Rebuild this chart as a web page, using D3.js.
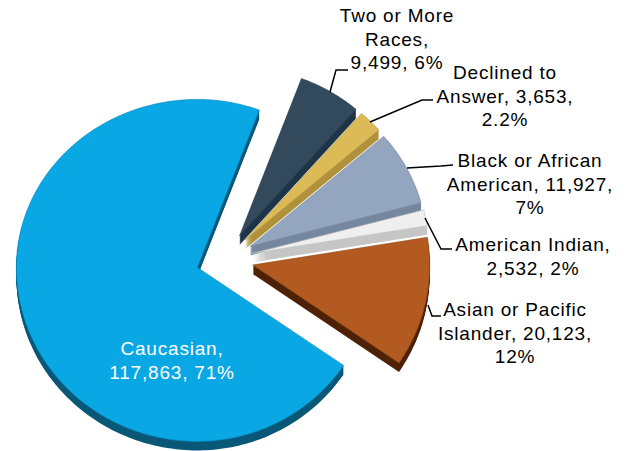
<!DOCTYPE html>
<html>
<head>
<meta charset="utf-8">
<script src="https://cdn.jsdelivr.net/npm/d3@7"></script>
<style>
  html, body { margin: 0; padding: 0; background: #fff; }
  text { font-family: "Liberation Sans", Arial, sans-serif; font-size: 19px; letter-spacing: 0.8px; fill: #000; }
</style>
</head>
<body>
<div id="chart"></div>
<script>
// Data, clockwise from the top
const categories = ["Two or More Races", "Declined to Answer", "Black or African American", "American Indian", "Asian or Pacific Islander", "Caucasian"];
const values = [9499, 3653, 11927, 2532, 20123, 117863];
const faceColors = ["#334a5c", "#dcba55", "#94a5bf", "#efefef", "#b25a20", "#09a7e4"];
const sideColors = ["#1f3648", "#b0923c", "#76879f", "#c6c6c6", "#4f2308", "#0a5878"];
const labelLines = [
  ["Two or More", "Races,", "9,499, 6%"],
  ["Declined to", "Answer, 3,653,", "2.2%"],
  ["Black or African", "American, 11,927,", "7%"],
  ["American Indian,", "2,532, 2%"],
  ["Asian or Pacific", "Islander, 20,123,", "12%"],
  ["Caucasian,", "117,863, 71%"]
];

const width = 629;
const height = 451;

// Pie geometry: centre, radii (the tilted disc is not quite symmetric), explode, thickness
const cx = 225;
const cy = 259;
const rxLeft = 181;
const rxRight = 177;
const ryBack = 168;
const ryFront = 174;
const explode = 29;
const depth = 9;
const startDeg = 20.5;

// Where each label sits and the elbow of its leader line
const labelPos = [
  { x: 397, y: 22, leader: [[330, 92], [336, 70], [348, 70]] },
  { x: 505, y: 79, leader: [[370, 122], [422, 100], [433, 100]] },
  { x: 530, y: 167, leader: [[407, 168], [441, 166], [453, 165]] },
  { x: 533, y: 251, leader: [[425, 218], [441, 249], [452, 249]] },
  { x: 515, y: 316, leader: [[428, 305], [432, 316], [441, 316]] },
  { x: 172, y: 355, color: "#fff" }
];
const lineHeight = 23.5;

const svg = d3.select("#chart").append("svg")
  .attr("width", width)
  .attr("height", height)
  .style("display", "block");

const pie = d3.pie().sort(null)
  .startAngle(startDeg * Math.PI / 180)
  .endAngle(startDeg * Math.PI / 180 + 2 * Math.PI);

// Tilted-disc projection of an angle (clockwise from the top) and a radius fraction
function project(angle, r) {
  const c = -Math.cos(angle);
  const s = Math.sin(angle);
  return [s * (s > 0 ? rxRight : rxLeft) * r, c * (c > 0 ? ryFront : ryBack) * r];
}

const slices = pie(values).map((d, i) => {
  const mid = (d.startAngle + d.endAngle) / 2;
  const off = project(mid, explode / rxLeft);
  const n = Math.ceil((d.endAngle - d.startAngle) / 0.02);
  const rim = d3.range(n + 1).map((k) => {
    const p = project(d.startAngle + (d.endAngle - d.startAngle) * k / n, 1);
    return [cx + off[0] + p[0], cy + off[1] + p[1]];
  });
  return { i, apex: [cx + off[0], cy + off[1]], rim };
});

const line = d3.line();

const slice = svg.selectAll(".slice")
  .data(slices)
  .enter()
  .append("g")
  .attr("class", "slice");

// Thickness: the same outline stacked downwards
slice.selectAll(".side")
  .data((d) => d3.range(depth, 0, -1).map((k) => ({ k, d })))
  .enter()
  .append("path")
  .attr("class", "side")
  .attr("d", (s) => line([s.d.apex, ...s.d.rim]) + "Z")
  .attr("transform", (s) => `translate(0, ${s.k})`)
  .attr("fill", (s) => sideColors[s.d.i]);

slice.append("path")
  .attr("class", "face")
  .attr("d", (d) => line([d.apex, ...d.rim]) + "Z")
  .attr("fill", (d) => faceColors[d.i])
  .attr("stroke", (d) => d3.color(faceColors[d.i]).darker(0.6))
  .attr("stroke-width", 0.6);

// Leader lines
svg.selectAll(".leader")
  .data(labelPos.filter((d) => d.leader))
  .enter()
  .append("path")
  .attr("class", "leader")
  .attr("d", (d) => line(d.leader))
  .attr("fill", "none")
  .attr("stroke", "#000")
  .attr("stroke-width", 1.5);

// Labels
const label = svg.selectAll(".label")
  .data(labelLines)
  .enter()
  .append("text")
  .attr("class", "label")
  .attr("text-anchor", "middle");

label.selectAll("tspan")
  .data((d, i) => d.map((t, j) => ({ t, j, pos: labelPos[i] })))
  .enter()
  .append("tspan")
  .attr("x", (d) => d.pos.x)
  .attr("y", (d) => d.pos.y + d.j * lineHeight)
  .style("fill", (d) => d.pos.color || "#000")
  .text((d) => d.t);
</script>
</body>
</html>
